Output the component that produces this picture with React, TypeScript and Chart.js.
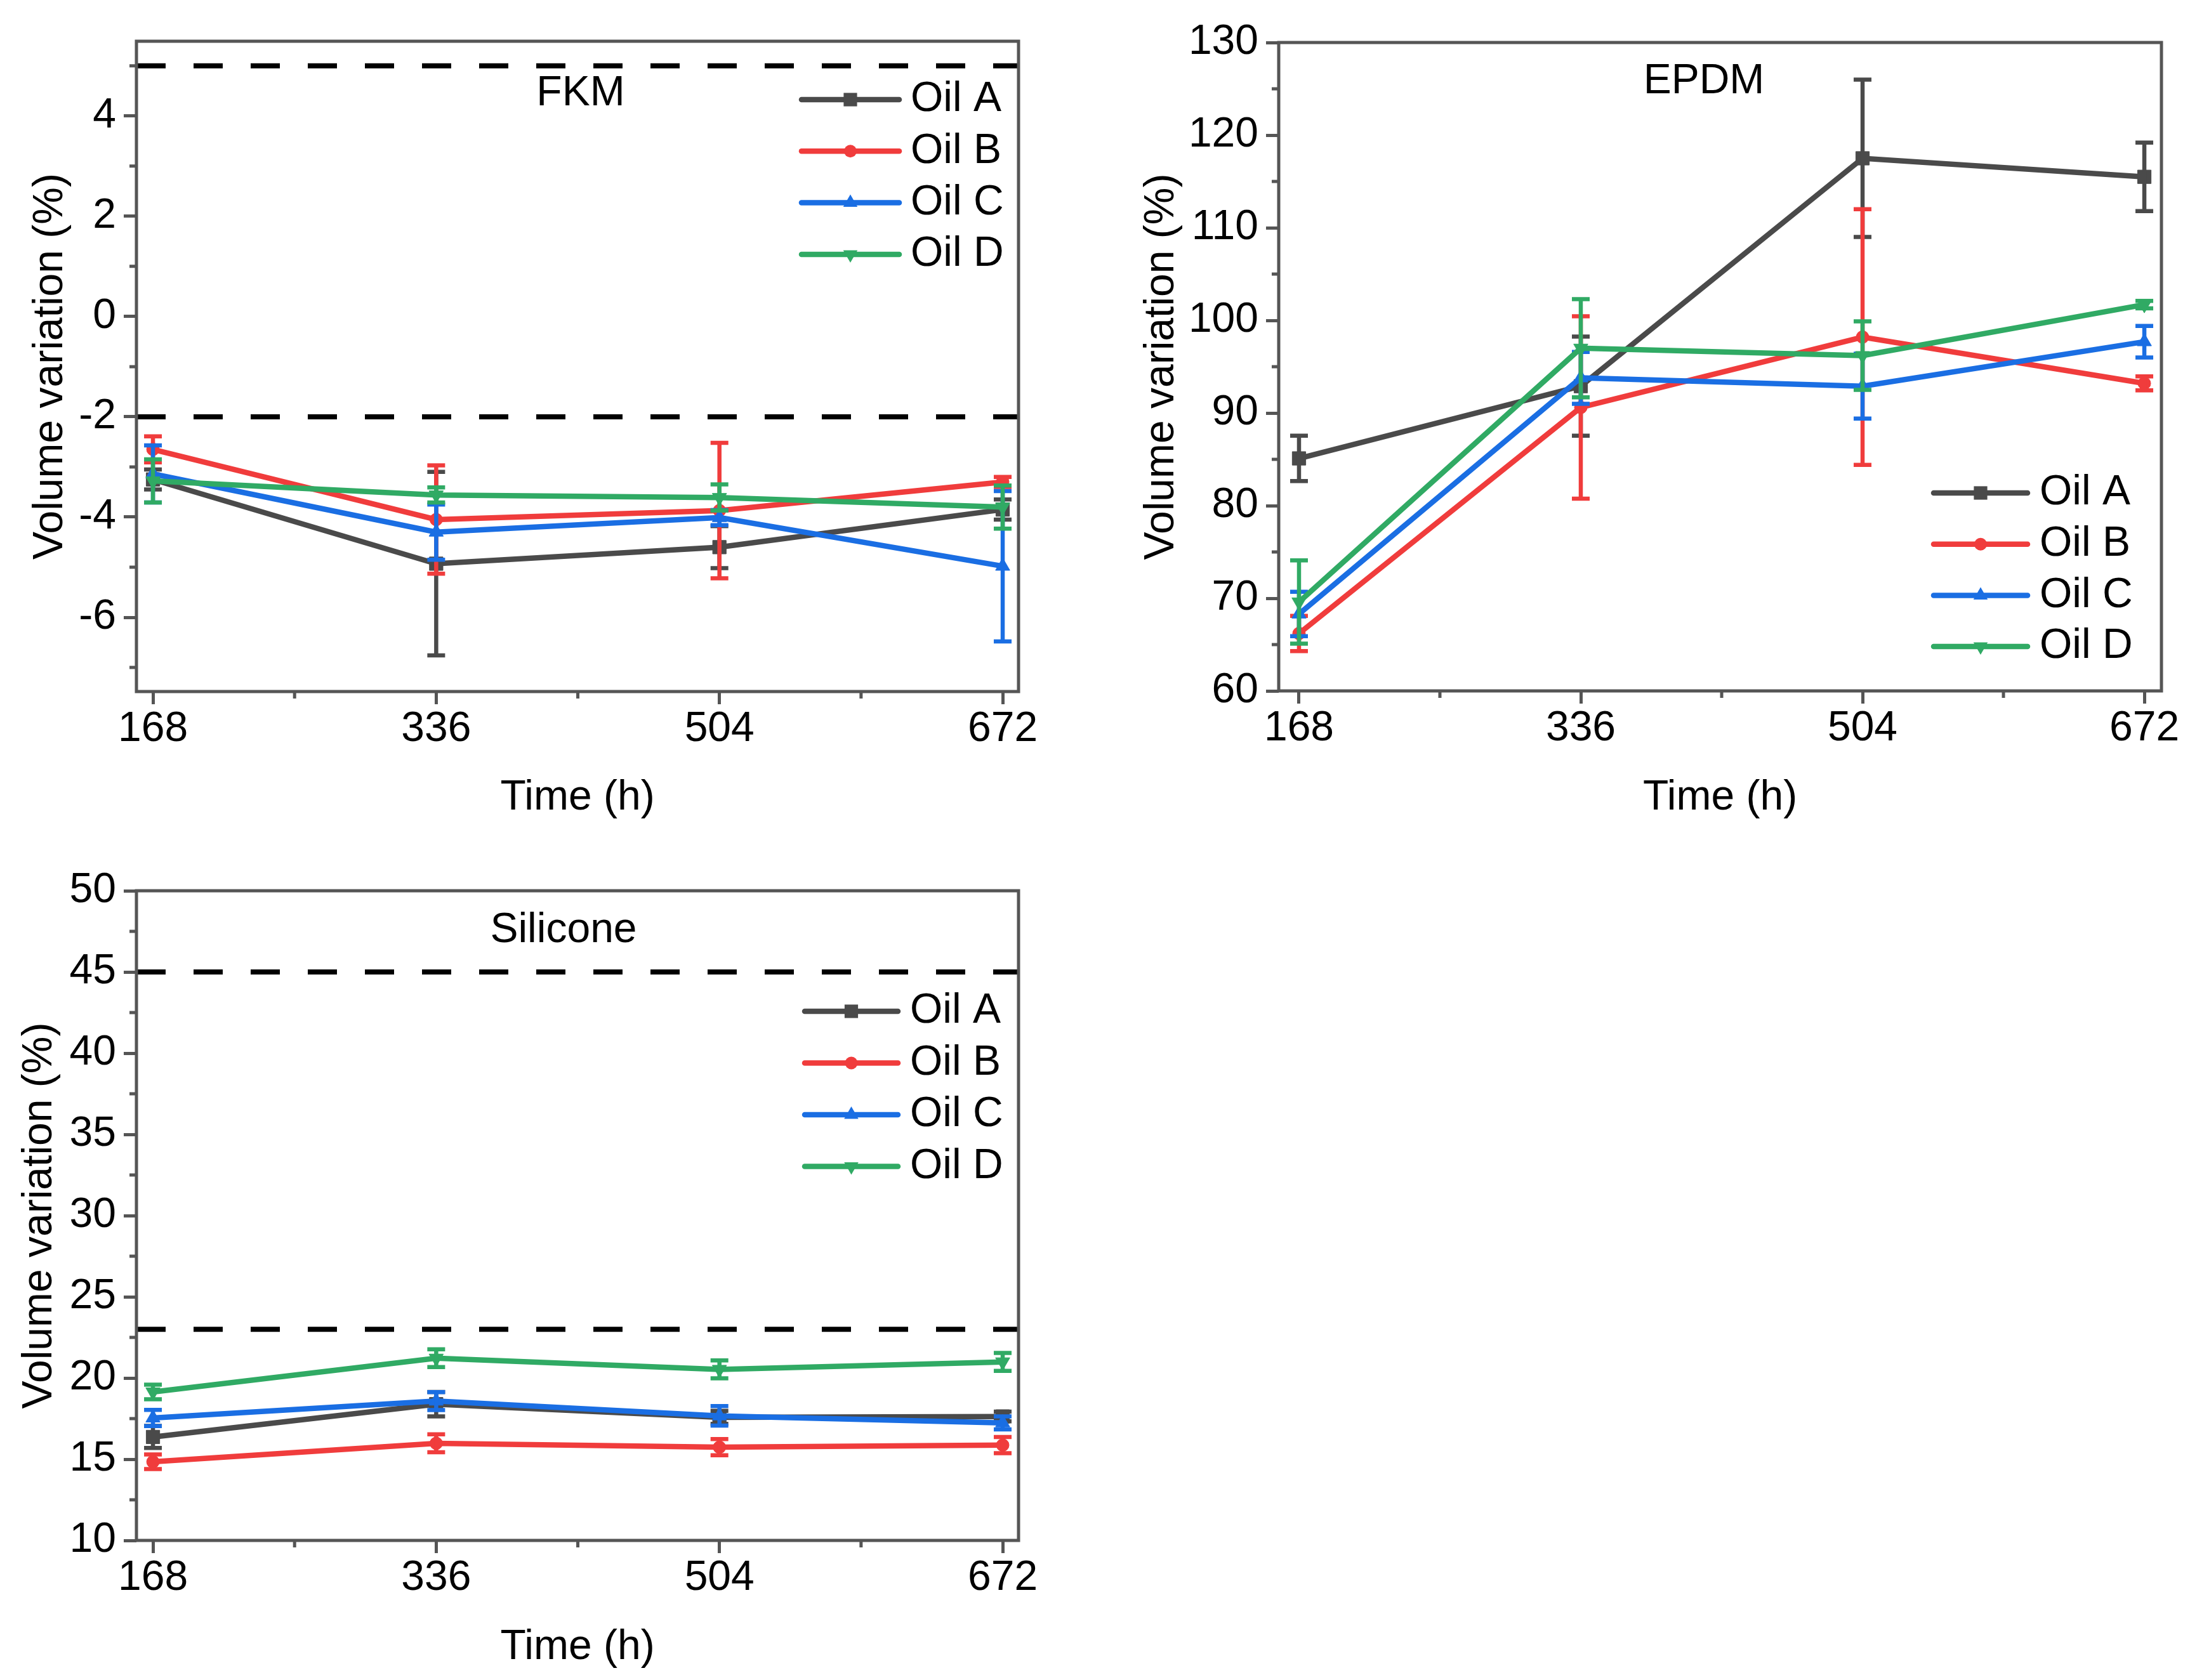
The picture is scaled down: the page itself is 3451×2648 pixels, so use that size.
import React, { useEffect, useRef } from 'react';
import { Chart, registerables } from 'chart.js';

Chart.register(...registerables);

// ---------- data ----------
const HOURS = [168, 336, 504, 672];
const X_TICK_LABELS = ['168', '336', '504', '672'];
const X_MINOR = [252, 420, 588];
const SERIES_NAMES = ['Oil A', 'Oil B', 'Oil C', 'Oil D'];
const X_TITLE = 'Time (h)';
const Y_TITLE = 'Volume variation (%)';

// FKM
const FKM_A = [-3.25, -4.93, -4.6, -3.85];
const FKM_B = [-2.65, -4.05, -3.87, -3.3];
const FKM_C = [-3.14, -4.3, -4.01, -4.98];
const FKM_D = [-3.28, -3.56, -3.61, -3.8];
const FKM_A_ERR = [0.2, 1.83, 0.42, 0.2];
const FKM_B_ERR = [0.26, 1.08, 1.35, 0.1];
const FKM_C_ERR = [0.57, 0.55, 0.15, 1.5];
const FKM_D_ERR = [0.43, 0.15, 0.26, 0.43];
const FKM_LIMITS = [5, -2];
const FKM_Y_TICKS = [-6, -4, -2, 0, 2, 4];
const FKM_Y_MINOR = [-7, -5, -3, -1, 1, 3, 5];

// EPDM
const EPDM_A = [85.1, 92.9, 117.5, 115.5];
const EPDM_B = [66.2, 90.6, 98.2, 93.2];
const EPDM_C = [68.3, 93.8, 92.9, 97.7];
const EPDM_D = [69.6, 97.0, 96.2, 101.7];
const EPDM_A_ERR = [2.45, 5.35, 8.5, 3.7];
const EPDM_B_ERR = [1.9, 9.85, 13.8, 0.75];
const EPDM_C_ERR = [2.4, 2.8, 3.5, 1.7];
const EPDM_D_ERR = [4.5, 5.3, 3.7, 0.4];
const EPDM_LIMITS: number[] = [];
const EPDM_Y_TICKS = [60, 70, 80, 90, 100, 110, 120, 130];
const EPDM_Y_MINOR = [65, 75, 85, 95, 105, 115, 125];

// Silicone
const SIL_A = [16.37, 18.39, 17.58, 17.63];
const SIL_B = [14.84, 15.98, 15.74, 15.87];
const SIL_C = [17.54, 18.58, 17.67, 17.24];
const SIL_D = [19.14, 21.22, 20.53, 20.99];
const SIL_A_ERR = [0.68, 0.75, 0.4, 0.3];
const SIL_B_ERR = [0.45, 0.55, 0.5, 0.5];
const SIL_C_ERR = [0.5, 0.55, 0.6, 0.4];
const SIL_D_ERR = [0.45, 0.55, 0.55, 0.55];
const SIL_LIMITS = [45, 23];
const SIL_Y_TICKS = [10, 15, 20, 25, 30, 35, 40, 45, 50];
const SIL_Y_MINOR = [12.5, 17.5, 22.5, 27.5, 32.5, 37.5, 42.5, 47.5];

// ---------- styles ----------
const COLORS = ['#4a4a4a', '#f03c3c', '#1a6ee3', '#30aa64'];
const POINT_STYLES = ['rect', 'circle', 'triangle', 'triangle'];
const POINT_ROT = [0, 0, 0, 180];
const POINT_R = [15, 10, 13, 13];
const FONT_FAMILY = "'Liberation Sans', Arial, Helvetica, sans-serif";
const FONT_SIZE = 66;
const AXIS_COLOR = '#555555';
const LINE_W = 8.5;

type Panel = {
  name: string;
  left: number; top: number; width: number; height: number;
  yWidth: number; xHeight: number; padTop: number; padRight: number;
  yTitlePad: number; xTitlePad: number;
  xMin: number; xMax: number; yMin: number; yMax: number;
  yTicks: number[]; yMinor: number[];
  values: number[][]; errs: number[][]; limits: number[];
  titleX: number; titleY: number;
  legX1: number; legX2: number; legTX: number; legY0: number; legGap: number;
};

const PANELS: Panel[] = [
  {
    name: 'FKM', left: 0, top: 0, width: 1700, height: 1320,
    yWidth: 215, xHeight: 230, padTop: 65, padRight: 95,
    yTitlePad: 40, xTitlePad: 23,
    xMin: 158.2, xMax: 681.4, yMin: -7.48, yMax: 5.49,
    yTicks: FKM_Y_TICKS, yMinor: FKM_Y_MINOR,
    values: [FKM_A, FKM_B, FKM_C, FKM_D],
    errs: [FKM_A_ERR, FKM_B_ERR, FKM_C_ERR, FKM_D_ERR],
    limits: FKM_LIMITS,
    titleX: 915, titleY: 148,
    legX1: 1263, legX2: 1417, legTX: 1435, legY0: 157, legGap: 81.3,
  },
  {
    name: 'EPDM', left: 1750, top: 0, width: 1701, height: 1320,
    yWidth: 265, xHeight: 231, padTop: 67, padRight: 45,
    yTitlePad: 41, xTitlePad: 23,
    xMin: 155.9, xMax: 682.2, yMin: 60, yMax: 130,
    yTicks: EPDM_Y_TICKS, yMinor: EPDM_Y_MINOR,
    values: [EPDM_A, EPDM_B, EPDM_C, EPDM_D],
    errs: [EPDM_A_ERR, EPDM_B_ERR, EPDM_C_ERR, EPDM_D_ERR],
    limits: EPDM_LIMITS,
    titleX: 935, titleY: 129,
    legX1: 1297, legX2: 1445, legTX: 1464, legY0: 777, legGap: 80.7,
  },
  {
    name: 'Silicone', left: 0, top: 1340, width: 1700, height: 1300,
    yWidth: 215, xHeight: 212, padTop: 64, padRight: 95,
    yTitlePad: 23, xTitlePad: 4,
    xMin: 158.2, xMax: 681.4, yMin: 10, yMax: 50,
    yTicks: SIL_Y_TICKS, yMinor: SIL_Y_MINOR,
    values: [SIL_A, SIL_B, SIL_C, SIL_D],
    errs: [SIL_A_ERR, SIL_B_ERR, SIL_C_ERR, SIL_D_ERR],
    limits: SIL_LIMITS,
    titleX: 888, titleY: 127,
    legX1: 1268, legX2: 1415, legTX: 1434, legY0: 254, legGap: 81.5,
  },
];

function drawMarker(ctx: CanvasRenderingContext2D, style: string, rot: number, r: number, x: number, y: number, color: string) {
  ctx.save();
  ctx.fillStyle = color;
  ctx.beginPath();
  if (style === 'rect') {
    const s = Math.SQRT1_2 * r;
    ctx.rect(x - s, y - s, 2 * s, 2 * s);
  } else if (style === 'circle') {
    ctx.arc(x, y, r, 0, Math.PI * 2);
  } else {
    let a = (rot * Math.PI) / 180;
    ctx.moveTo(x + Math.sin(a) * r, y - Math.cos(a) * r);
    a += (2 * Math.PI) / 3;
    ctx.lineTo(x + Math.sin(a) * r, y - Math.cos(a) * r);
    a += (2 * Math.PI) / 3;
    ctx.lineTo(x + Math.sin(a) * r, y - Math.cos(a) * r);
    ctx.closePath();
  }
  ctx.fill();
  ctx.restore();
}

function makeConfig(p: Panel): any {
  const font = { family: FONT_FAMILY, size: FONT_SIZE };
  const datasets: any[] = [];
  p.limits.forEach((lim) => {
    datasets.push({
      label: 'limit',
      data: [{ x: p.xMin, y: lim }, { x: p.xMax, y: lim }],
      borderColor: '#000000',
      borderWidth: 8,
      borderDash: [46, 44],
      borderCapStyle: 'butt',
      pointRadius: 0,
      order: 10,
    });
  });
  SERIES_NAMES.forEach((name, i) => {
    datasets.push({
      label: name,
      data: HOURS.map((h, j) => ({ x: h, y: p.values[i][j] })),
      errors: p.errs[i],
      borderColor: COLORS[i],
      backgroundColor: COLORS[i],
      borderWidth: LINE_W,
      pointStyle: POINT_STYLES[i],
      pointRotation: POINT_ROT[i],
      pointRadius: POINT_R[i],
      pointBorderWidth: 1,
      pointBackgroundColor: COLORS[i],
      pointBorderColor: COLORS[i],
      tension: 0,
      order: 3 - i,
    });
  });

  const decor = {
    id: 'decor_' + p.name,
    afterDatasetDraw(chart: any, args: any) {
      const ds = chart.data.datasets[args.index];
      if (!ds.errors) return;
      const ctx = chart.ctx as CanvasRenderingContext2D;
      const xs = chart.scales.x;
      const ys = chart.scales.y;
      ctx.save();
      ctx.strokeStyle = ds.borderColor;
      ctx.lineWidth = 6.5;
      ds.data.forEach((pt: any, j: number) => {
        const e = ds.errors[j];
        const x = xs.getPixelForValue(pt.x);
        const y1 = ys.getPixelForValue(pt.y + e);
        const y2 = ys.getPixelForValue(pt.y - e);
        ctx.beginPath();
        ctx.moveTo(x, y1);
        ctx.lineTo(x, y2);
        ctx.moveTo(x - 14, y1);
        ctx.lineTo(x + 14, y1);
        ctx.moveTo(x - 14, y2);
        ctx.lineTo(x + 14, y2);
        ctx.stroke();
      });
      ctx.restore();
    },
    afterDraw(chart: any) {
      const ctx = chart.ctx as CanvasRenderingContext2D;
      const a = chart.chartArea;
      const xs = chart.scales.x;
      const ys = chart.scales.y;
      ctx.save();
      // minor ticks
      ctx.strokeStyle = AXIS_COLOR;
      ctx.lineWidth = 5;
      ctx.beginPath();
      X_MINOR.forEach((v) => {
        const x = xs.getPixelForValue(v);
        ctx.moveTo(x, a.bottom);
        ctx.lineTo(x, a.bottom + 11);
      });
      p.yMinor.forEach((v) => {
        const y = ys.getPixelForValue(v);
        ctx.moveTo(a.left - 11, y);
        ctx.lineTo(a.left, y);
      });
      ctx.stroke();
      // frame
      ctx.strokeRect(a.left, a.top, a.right - a.left, a.bottom - a.top);
      // panel title
      ctx.fillStyle = '#000';
      ctx.font = `${FONT_SIZE}px ${FONT_FAMILY}`;
      ctx.textAlign = 'center';
      ctx.textBaseline = 'middle';
      ctx.fillText(p.name, p.titleX, p.titleY);
      // legend
      SERIES_NAMES.forEach((name, i) => {
        const y = p.legY0 + i * p.legGap;
        ctx.strokeStyle = COLORS[i];
        ctx.lineWidth = LINE_W;
        ctx.lineCap = 'round';
        ctx.beginPath();
        ctx.moveTo(p.legX1, y);
        ctx.lineTo(p.legX2, y);
        ctx.stroke();
        drawMarker(ctx, POINT_STYLES[i], POINT_ROT[i], POINT_R[i], (p.legX1 + p.legX2) / 2, y, COLORS[i]);
        ctx.fillStyle = '#000';
        ctx.textAlign = 'left';
        ctx.fillText(name, p.legTX, y);
      });
      ctx.restore();
    },
  };

  return {
    type: 'line',
    data: { datasets },
    plugins: [decor],
    options: {
      animation: false,
      responsive: false,
      devicePixelRatio: 1,
      events: [],
      layout: { padding: { left: 0, top: p.padTop, right: p.padRight, bottom: 0 } },
      plugins: { legend: { display: false }, tooltip: { enabled: false }, title: { display: false } },
      scales: {
        x: {
          type: 'linear',
          min: p.xMin,
          max: p.xMax,
          afterBuildTicks: (s: any) => { s.ticks = HOURS.map((v) => ({ value: v })); },
          afterFit: (s: any) => { s.height = p.xHeight; },
          ticks: {
            autoSkip: false, maxRotation: 0, minRotation: 0, padding: 0,
            color: '#000', font,
            callback: (v: number) => X_TICK_LABELS[HOURS.indexOf(v)] ?? '',
          },
          grid: { display: true, drawOnChartArea: false, drawTicks: true, tickLength: 20, tickWidth: 5, tickColor: AXIS_COLOR },
          border: { display: false },
          title: { display: true, text: X_TITLE, color: '#000', font, padding: { top: 0, bottom: p.xTitlePad } },
        },
        y: {
          type: 'linear',
          min: p.yMin,
          max: p.yMax,
          afterBuildTicks: (s: any) => { s.ticks = p.yTicks.map((v) => ({ value: v })); },
          afterFit: (s: any) => { s.width = p.yWidth; },
          ticks: {
            autoSkip: false, padding: 12, color: '#000', font,
            callback: (v: number) => String(v),
          },
          grid: { display: true, drawOnChartArea: false, drawTicks: true, tickLength: 20, tickWidth: 5, tickColor: AXIS_COLOR },
          border: { display: false },
          title: { display: true, text: Y_TITLE, color: '#000', font, padding: { top: p.yTitlePad, bottom: 0 } },
        },
      },
    },
  };
}

function PanelChart({ panel }: { panel: Panel }) {
  const ref = useRef<HTMLCanvasElement | null>(null);
  useEffect(() => {
    if (!ref.current) return;
    const chart = new Chart(ref.current, makeConfig(panel));
    return () => chart.destroy();
  }, [panel]);
  return (
    <div style={{ position: 'absolute', left: panel.left, top: panel.top, width: panel.width, height: panel.height }}>
      <canvas ref={ref} width={panel.width} height={panel.height} style={{ width: panel.width, height: panel.height, display: 'block' }} />
    </div>
  );
}

export default function App() {
  return (
    <div style={{ position: 'absolute', left: 0, top: 0, width: 3451, height: 2648, overflow: 'hidden', background: '#ffffff' }}>
      {PANELS.map((p) => (
        <PanelChart key={p.name} panel={p} />
      ))}
    </div>
  );
}
